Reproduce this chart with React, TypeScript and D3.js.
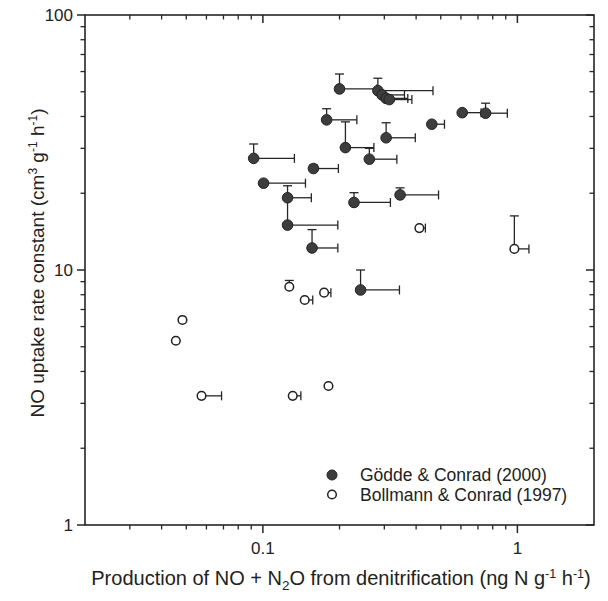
import React from "react";
import * as d3 from "d3";

// Gödde & Conrad (2000): x, y, end of x error bar, end of y error bar
const goddeX = [0.2, 0.283, 0.294, 0.305, 0.314, 0.178, 0.461, 0.607, 0.75, 0.305, 0.211, 0.262, 0.092, 0.158, 0.1006, 0.125, 0.125, 0.228, 0.346, 0.156, 0.242];
const goddeY = [51.3, 50.5, 48.6, 47.1, 46.6, 38.8, 37.3, 41.4, 41.2, 33.0, 30.2, 27.2, 27.4, 25.0, 21.9, 19.2, 15.0, 18.4, 19.7, 12.2, 8.35];
const goddeXErr = [0.28, 0.466, 0.36, 0.371, 0.385, 0.234, 0.517, 0.72, 0.913, 0.397, 0.273, 0.336, 0.133, 0.198, 0.147, 0.155, 0.197, 0.317, 0.49, 0.197, 0.344];
const goddeYErr = [58.7, 56.5, 0, 0, 0, 42.9, 0, 0, 45.1, 37.8, 38.1, 30.0, 31.2, 25.8, 0, 21.4, 19.2, 20.1, 21.0, 14.4, 10.0];

// Bollmann & Conrad (1997)
const bollX = [0.412, 0.973, 0.127, 0.146, 0.174, 0.0483, 0.0455, 0.0574, 0.131, 0.181];
const bollY = [14.6, 12.1, 8.6, 7.63, 8.15, 6.37, 5.28, 3.21, 3.21, 3.51];
const bollXErr = [0.435, 1.11, 0, 0.157, 0.185, 0, 0, 0.0688, 0.141, 0];
const bollYErr = [0, 16.3, 9.1, 0, 0, 0, 0, 0, 0, 0];

const xDomain = [0.02, 2];
const yDomain = [1, 100];
const xTickLabels = ["0.1", "1"];
const xTickValues = [0.1, 1];
const yTickLabels = ["1", "10", "100"];
const yTickValues = [1, 10, 100];
const legendLabels = ["Gödde & Conrad (2000)", "Bollmann & Conrad (1997)"];
const xTitle = "Production of NO + N";
const yTitle = "NO uptake rate constant (cm";

const L = 85, R = 594, T = 15, B = 525;
const FONT = "'Liberation Sans', Arial, sans-serif";
const INK = "#262626";

export default function App() {
  const x = d3.scaleLog().domain(xDomain).range([L, R]);
  const y = d3.scaleLog().domain(yDomain).range([B, T]);

  const xMinor: number[] = [];
  [0.01, 0.1, 1].forEach((d) => {
    for (let k = 2; k <= 9; k++) {
      const v = d * k;
      if (v > xDomain[0] * 1.001 && v < xDomain[1] * 0.999 && !xTickValues.includes(v)) xMinor.push(v);
    }
  });
  const yMinor: number[] = [];
  [1, 10].forEach((d) => {
    for (let k = 2; k <= 9; k++) yMinor.push(d * k);
  });

  const errBars = (xs: number[], ys: number[], xe: number[], ye: number[], key: string) =>
    xs.map((xv, i) => {
      const cx = x(xv), cy = y(ys[i]);
      const out: React.ReactNode[] = [];
      if (xe[i] > 0) {
        const ex = x(xe[i]);
        out.push(<line key={key + "xl" + i} x1={cx} x2={ex} y1={cy} y2={cy} stroke={INK} strokeWidth={1.3} />);
        out.push(<line key={key + "xc" + i} x1={ex} x2={ex} y1={cy - 4.5} y2={cy + 4.5} stroke={INK} strokeWidth={1.3} />);
      }
      if (ye[i] > 0) {
        const ey = y(ye[i]);
        out.push(<line key={key + "yl" + i} x1={cx} x2={cx} y1={cy} y2={ey} stroke={INK} strokeWidth={1.3} />);
        out.push(<line key={key + "yc" + i} x1={cx - 4.5} x2={cx + 4.5} y1={ey} y2={ey} stroke={INK} strokeWidth={1.3} />);
      }
      return out;
    });

  return (
    <svg width={608} height={601} style={{ position: "absolute", left: 0, top: 0, background: "#fff" }} fontFamily={FONT}>
      <rect x={0} y={0} width={608} height={601} fill="#fff" />
      {/* error bars */}
      {errBars(goddeX, goddeY, goddeXErr, goddeYErr, "g")}
      {errBars(bollX, bollY, bollXErr, bollYErr, "b")}
      {/* markers */}
      {goddeX.map((xv, i) => (
        <circle key={"gm" + i} cx={x(xv)} cy={y(goddeY[i])} r={5.3} fill="#3d3d3d" stroke="#222" strokeWidth={1} />
      ))}
      {bollX.map((xv, i) => (
        <circle key={"bm" + i} cx={x(xv)} cy={y(bollY[i])} r={4.3} fill="#fff" stroke="#222" strokeWidth={1.5} />
      ))}
      {/* frame */}
      <rect x={L} y={T} width={R - L} height={B - T} fill="none" stroke={INK} strokeWidth={1.6} />
      {/* x ticks */}
      {xTickValues.map((v) => (
        <g key={"xt" + v}>
          <line x1={x(v)} x2={x(v)} y1={B} y2={B + 8} stroke={INK} strokeWidth={1.5} />
          <line x1={x(v)} x2={x(v)} y1={T} y2={T + 8} stroke={INK} strokeWidth={1.5} />
        </g>
      ))}
      {xMinor.map((v) => (
        <g key={"xm" + v}>
          <line x1={x(v)} x2={x(v)} y1={B} y2={B + 4.5} stroke={INK} strokeWidth={1.3} />
          <line x1={x(v)} x2={x(v)} y1={T} y2={T + 4.5} stroke={INK} strokeWidth={1.3} />
        </g>
      ))}
      {xTickValues.map((v, i) => (
        <text key={"xl" + v} x={x(v)} y={554} fontSize={17} textAnchor="middle" fill="#222">{xTickLabels[i]}</text>
      ))}
      {/* y ticks */}
      {yTickValues.map((v) => (
        <g key={"yt" + v}>
          <line x1={L - 8} x2={L} y1={y(v)} y2={y(v)} stroke={INK} strokeWidth={1.5} />
          <line x1={R - 8} x2={R} y1={y(v)} y2={y(v)} stroke={INK} strokeWidth={1.5} />
        </g>
      ))}
      {yMinor.map((v) => (
        <g key={"ym" + v}>
          <line x1={L - 4.5} x2={L} y1={y(v)} y2={y(v)} stroke={INK} strokeWidth={1.3} />
          <line x1={R - 4.5} x2={R} y1={y(v)} y2={y(v)} stroke={INK} strokeWidth={1.3} />
        </g>
      ))}
      {yTickValues.map((v, i) => (
        <text key={"yl" + v} x={73} y={y(v) + 6} fontSize={17} textAnchor="end" fill="#222">{yTickLabels[i]}</text>
      ))}
      {/* axis titles */}
      <text x={341} y={585} fontSize={20} textAnchor="middle" fill="#222">
        {xTitle}
        <tspan fontSize={13.5} dy={5}>2</tspan>
        <tspan dy={-5}>O from denitrification (ng N g</tspan>
        <tspan fontSize={12.5} dy={-7.5}>-1</tspan>
        <tspan dy={7.5}> h</tspan>
        <tspan fontSize={12.5} dy={-7.5}>-1</tspan>
        <tspan dy={7.5}>)</tspan>
      </text>
      <text transform={`translate(44, 263) rotate(-90)`} fontSize={19} textAnchor="middle" fill="#222">
        {yTitle}
        <tspan fontSize={12} dy={-7}>3</tspan>
        <tspan dy={7}> g</tspan>
        <tspan fontSize={12} dy={-7}>-1</tspan>
        <tspan dy={7}> h</tspan>
        <tspan fontSize={12} dy={-7}>-1</tspan>
        <tspan dy={7}>)</tspan>
      </text>
      {/* legend */}
      <circle cx={332} cy={475} r={5} fill="#3d3d3d" stroke="#222" strokeWidth={1} />
      <text x={360} y={480.5} fontSize={17.5} fill="#222">{legendLabels[0]}</text>
      <circle cx={332} cy={494.5} r={4.3} fill="#fff" stroke="#222" strokeWidth={1.5} />
      <text x={360} y={500.5} fontSize={17.5} fill="#222">{legendLabels[1]}</text>
    </svg>
  );
}
